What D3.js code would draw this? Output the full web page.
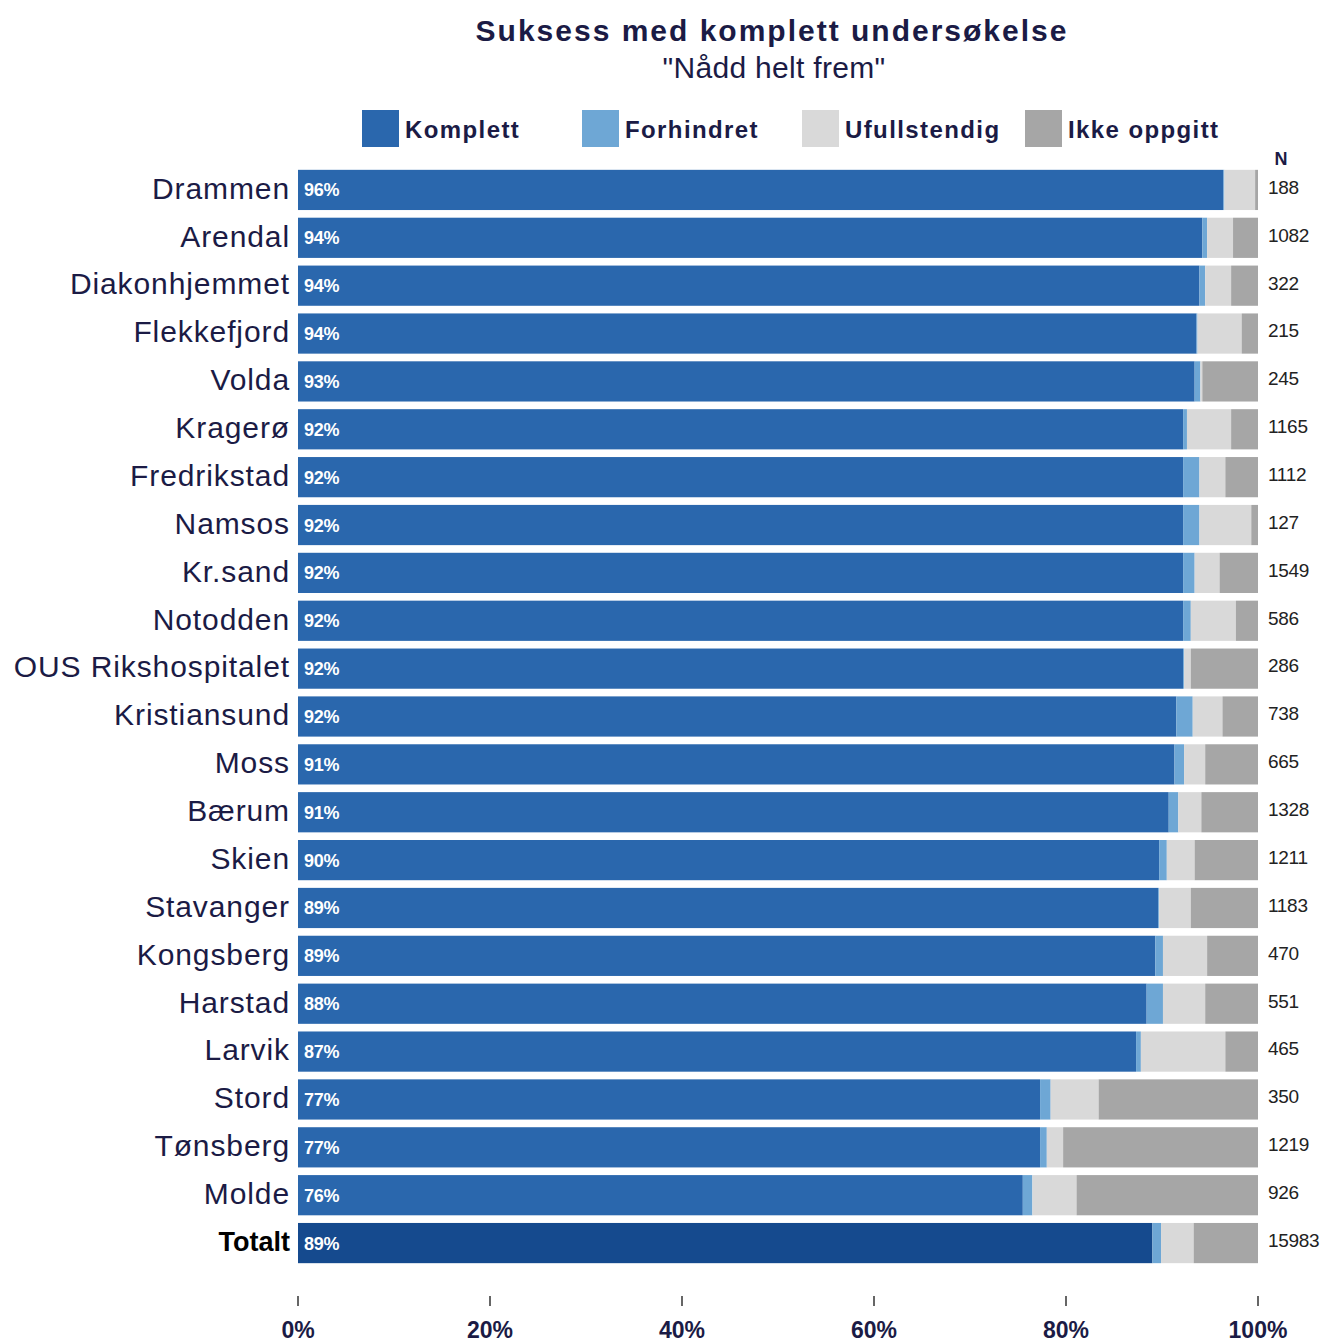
<!DOCTYPE html>
<html><head><meta charset="utf-8">
<script src="https://cdn.jsdelivr.net/npm/d3@7"></script>
<style>body{margin:0;background:#fff;font-family:"Liberation Sans",Arial,sans-serif}</style>
</head><body><svg id="c" width="1329" height="1343"></svg>
<script>
const categories = ["Drammen","Arendal","Diakonhjemmet","Flekkefjord","Volda","Kragerø","Fredrikstad","Namsos","Kr.sand","Notodden","OUS Rikshospitalet","Kristiansund","Moss","Bærum","Skien","Stavanger","Kongsberg","Harstad","Larvik","Stord","Tønsberg","Molde","Totalt"];
const komplett      = [96.4,94.2,93.9,93.6,93.4,92.2,92.2,92.2,92.2,92.2,92.2,91.5,91.3,90.7,89.7,89.6,89.3,88.4,87.3,77.3,77.3,75.5,89.0];
const forhindret    = [0.1,0.5,0.6,0.1,0.6,0.4,1.7,1.7,1.2,0.8,0.1,1.7,1.0,1.0,0.8,0.1,0.8,1.7,0.5,1.1,0.7,1.0,0.9];
const ufullstendig  = [3.2,2.7,2.7,4.6,0.2,4.6,2.7,5.4,2.6,4.7,0.7,3.1,2.2,2.4,2.9,3.3,4.6,4.4,8.8,5.0,1.7,4.6,3.4];
const ikkeOppgitt   = [0.3,2.6,2.8,1.7,5.8,2.8,3.4,0.7,4.0,2.3,7.0,3.7,5.5,5.9,6.6,7.0,5.3,5.5,3.4,16.6,20.3,18.9,6.7];
const pctLabels     = ["96%","94%","94%","94%","93%","92%","92%","92%","92%","92%","92%","92%","91%","91%","90%","89%","89%","88%","87%","77%","77%","76%","89%"];
const nValues       = [188,1082,322,215,245,1165,1112,127,1549,586,286,738,665,1328,1211,1183,470,551,465,350,1219,926,15983];
const seriesNames   = ["Komplett","Forhindret","Ufullstendig","Ikke oppgitt"];
const seriesColors  = ["#2a67ad","#6ea7d5","#d9d9d9","#a6a6a6"];
const tickValues    = [0,20,40,60,80,100];

const svg = d3.select("#c");
const x = d3.scaleLinear().domain([0,100]).range([298,1258]);
const y = d3.scaleBand().domain(categories).range([166,1267]).paddingInner(0.16).paddingOuter(0.08);
const textCol = "#1b1b45";

const rows = categories.map((c,i)=>({cat:c, vals:[komplett[i],forhindret[i],ufullstendig[i],ikkeOppgitt[i]]}));
const g = svg.append("g");
rows.forEach((r,i)=>{
  let acc=0;
  r.vals.forEach((v,j)=>{
    let col = seriesColors[j];
    if (r.cat==="Totalt" && j===0) col="#154a8e";
    g.append("rect").attr("x",x(acc)).attr("y",y(r.cat)).attr("width",x(acc+v)-x(acc)).attr("height",y.bandwidth()).attr("fill",col);
    acc+=v;
  });
  const cy = y(r.cat)+y.bandwidth()/2;
  g.append("text").attr("x",x(0)+6).attr("y",cy).attr("dy","0.36em").attr("fill","#fff").attr("font-size",18).attr("font-weight","bold").attr("letter-spacing",-0.3).text(pctLabels[i]);
  g.append("text").attr("x",290).attr("y",cy-2).attr("dy","0.36em").attr("text-anchor","end").attr("fill",r.cat==="Totalt"?"#000":textCol)
   .attr("font-size",r.cat==="Totalt"?27:30).attr("letter-spacing",r.cat==="Totalt"?0:0.9).attr("font-weight",r.cat==="Totalt"?"bold":"normal").text(r.cat);
  g.append("text").attr("x",1268).attr("y",cy-3).attr("dy","0.36em").attr("fill","#222").attr("font-size",19).attr("letter-spacing",-0.3).text(nValues[i]);
});
svg.append("text").attr("x",1281).attr("y",165).attr("text-anchor","middle").attr("font-weight","bold").attr("font-size",18).attr("fill",textCol).text("N");

// axis
const ax = svg.append("g").attr("transform","translate(0,1296)");
ax.selectAll("line").data(tickValues).join("line").attr("x1",d=>x(d)).attr("x2",d=>x(d)).attr("y1",0).attr("y2",10).attr("stroke","#333").attr("stroke-width",1.5);
ax.selectAll("text").data(tickValues).join("text").attr("x",d=>x(d)).attr("y",42).attr("text-anchor","middle").attr("font-weight","bold").attr("font-size",23).attr("fill",textCol).text(d=>d+"%");

// title
svg.append("text").attr("x",772).attr("y",41).attr("text-anchor","middle").attr("font-weight","bold").attr("font-size",30).attr("letter-spacing",2).attr("fill",textCol).text("Suksess med komplett undersøkelse");
svg.append("text").attr("x",774).attr("y",78).attr("text-anchor","middle").attr("font-size",30).attr("letter-spacing",0.3).attr("fill",textCol).text("\"Nådd helt frem\"");

// legend
const legX = [362,582,802,1025];
const leg = svg.append("g");
seriesNames.forEach((s,i)=>{
  leg.append("rect").attr("x",legX[i]).attr("y",110).attr("width",37).attr("height",37).attr("fill",seriesColors[i]);
  leg.append("text").attr("x",legX[i]+43).attr("y",129).attr("dy","0.36em").attr("font-weight","bold").attr("font-size",24).attr("letter-spacing",1.4).attr("fill",textCol).text(s);
});
</script></body></html>
